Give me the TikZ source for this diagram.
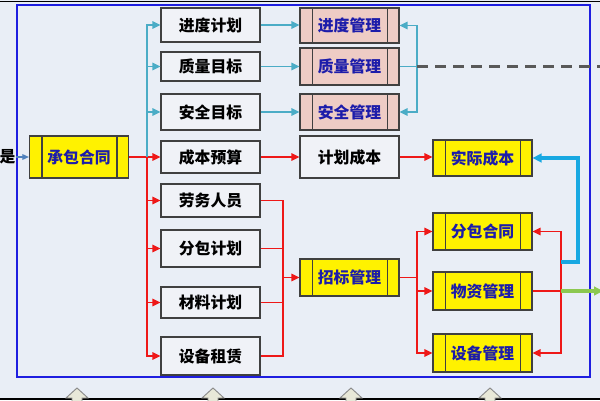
\documentclass[tikz,border=0pt]{standalone}
\usepackage{fontspec}
\newfontfamily\cjk{Noto Sans CJK SC}
\usetikzlibrary{arrows.meta}
\definecolor{bg}{RGB}{233,238,246}
\definecolor{boxline}{RGB}{64,64,64}
\definecolor{plainfill}{RGB}{240,242,247}
\definecolor{pinkfill}{RGB}{238,204,197}
\definecolor{procblue}{RGB}{28,28,170}
\definecolor{tealc}{RGB}{75,172,198}
\definecolor{redc}{RGB}{238,24,24}
\definecolor{skyc}{RGB}{24,168,226}
\definecolor{greenc}{RGB}{140,200,80}
\definecolor{steelc}{RGB}{79,129,189}
\definecolor{framec}{RGB}{30,30,224}
\definecolor{upfill}{RGB}{232,232,216}
\tikzset{
  every picture/.style={
    line width=1pt
  },
  txt/.style={font=\cjk\bfseries\fontsize{13.5}{14}\selectfont},
  plain/.style={txt, draw=boxline, fill=plainfill, line width=1.2pt, minimum width=2.96cm,
    inner sep=1pt},
  proc/.style={plain, text=procblue,
    path picture={
      \draw[boxline, line width=1pt]
        ([xshift=0.37cm]path picture bounding box.north west) -- ([xshift=0.37cm]path picture bounding box.south west)
        ([xshift=-0.34cm]path picture bounding box.north east) -- ([xshift=-0.34cm]path picture bounding box.south east);
    }},
  yel/.style={proc, fill=yellow},
  pinkbox/.style={proc, fill=pinkfill},
  tip/.style={-{Triangle[length=0.24cm, width=0.22cm]}},
  tealline/.style={draw=tealc, line width=1.6pt},
  tealarr/.style={tealline, tip},
  redline/.style={draw=redc, line width=1.6pt},
  redarr/.style={redline, tip},
  skyarr/.style={draw=skyc, line width=2.6pt, -{Triangle[length=0.27cm, width=0.26cm]}},
  greenarr/.style={draw=greenc, line width=2.6pt, -{Triangle[length=0.27cm, width=0.26cm]}},
  dashline/.style={draw=black!65, line width=1.8pt, dash pattern=on 0.33cm off 0.21cm},
  % blocks cut off below the picture
  uparrow/.style={fill=upfill, draw=black!45, line width=0.8pt}
}

\begin{document}
\begin{tikzpicture}[x=0.03cm, y=-0.03cm]
  \fill[bg] (0,0) rectangle (600,400);
  \useasboundingbox (0,0) rectangle (600,400);
  \draw[black, line width=1.5pt] (0,1.5) -- (600,1.5);
  \draw[black, line width=2pt] (0,399) -- (600,399);
  \foreach \x in {77,213,351,490} {
    \filldraw[uparrow] (\x-11,398) -- (\x,388) -- (\x+11,398) -- (\x+5,398) -- (\x+5,403) -- (\x-5,403) -- (\x-5,398) -- cycle;
  }
  \draw[framec, line width=1.2pt] (17,5) rectangle (590,377);

  \node[txt, inner sep=0pt] (yes) at (7.5,157) {是};
  \node[yel, minimum height=1.26cm] (contract) at (79,157) {承包合同};

  \node[plain, minimum height=1.02cm] (schedule) at (210.5,25) {进度计划};
  \node[plain, minimum height=0.87cm] (quality) at (210.5,66.5) {质量目标};
  \node[plain, minimum height=1.08cm] (safety) at (210.5,112) {安全目标};
  \node[plain, minimum height=0.96cm] (budget) at (210.5,157) {成本预算};
  \node[plain, minimum height=0.99cm] (labour) at (210.5,200.5) {劳务人员};
  \node[plain, minimum height=1.11cm] (subplan) at (210.5,248.5) {分包计划};
  \node[plain, minimum height=0.93cm] (material) at (210.5,302.5) {材料计划};
  \node[plain, minimum height=1.14cm] (equip) at (210.5,356) {设备租赁};

  \node[pinkbox, minimum height=1.05cm] (schedmgt) at (349.5,25.5) {进度管理};
  \node[pinkbox, minimum height=1.11cm] (qualmgt) at (349.5,66.5) {质量管理};
  \node[pinkbox, minimum height=1.08cm] (safemgt) at (349.5,112) {安全管理};
  \node[plain, minimum height=1.26cm] (plancost) at (349.5,157) {计划成本};
  \node[yel, minimum height=1.11cm] (tender) at (349.5,277.5) {招标管理};

  \node[yel, minimum height=1.08cm] (actcost) at (482.5,158) {实际成本};
  \node[yel, minimum height=1.11cm] (subcon) at (482.5,231.5) {分包合同};
  \node[yel, minimum height=1.14cm] (matmgt) at (482.5,291) {物资管理};
  \node[yel, minimum height=1.14cm] (equipmgt) at (482.5,353) {设备管理};

  \coordinate (busL) at (147,157);
  \coordinate (busR) at (417,66.5);
  \coordinate (dashend) at (600,66.5);
  \coordinate (busM) at (283,277.5);
  \coordinate (busT) at (417,277.5);
  \coordinate (busE) at (561,291);
  \coordinate (outR) at (603,291);
  \coordinate (skyS) at (561,262);
  \coordinate (skyC) at (578,262);

  \draw[draw=steelc, line width=1.2pt, -{Triangle[length=0.2cm, width=0.17cm]}] (yes) -- (contract);

  \draw[redarr] (contract) -- (budget);
  \draw[tealarr] (busL) |- (schedule);
  \draw[tealarr] (busL) |- (quality);
  \draw[tealarr] (busL) |- (safety);
  \draw[redarr] (busL) |- (labour);
  \draw[redarr] (busL) |- (subplan);
  \draw[redarr] (busL) |- (material);
  \draw[redarr] (busL) |- (equip);

  \draw[tealarr] (schedule.east) -- (schedule.east -| schedmgt.west);
  \draw[tealarr] (quality) -- (qualmgt);
  \draw[tealarr] (safety) -- (safemgt);
  \draw[tealline] (qualmgt) -- (busR);
  \draw[tealarr] (busR) |- (schedmgt);
  \draw[tealarr] (busR) |- (safemgt);
  \draw[dashline] (busR) -- (dashend);

  \draw[redarr] (budget) -- (plancost);
  \draw[redarr] (plancost.east) -- (plancost.east -| actcost.west);

  \draw[redline] (labour.east) -| (busM);
  \draw[redline] (equip.east) -| (busM);
  \draw[redline] (subplan.east) -- (subplan.east -| busM);
  \draw[redline] (material.east) -- (material.east -| busM);
  \draw[redarr] (busM) -- (tender);

  \draw[redline] (tender) -- (busT);
  \draw[redarr] (busT) |- (subcon);
  \draw[redarr] (busT) |- (matmgt);
  \draw[redarr] (busT) |- (equipmgt);

  \draw[redline] (matmgt) -- (busE);
  \draw[redarr] (busE) |- (subcon);
  \draw[redarr] (busE) |- (equipmgt);
  \draw[greenarr] (busE) -- (outR);
  \draw[skyarr] (skyS) -- (skyC) |- (actcost);
\end{tikzpicture}
\end{document}
